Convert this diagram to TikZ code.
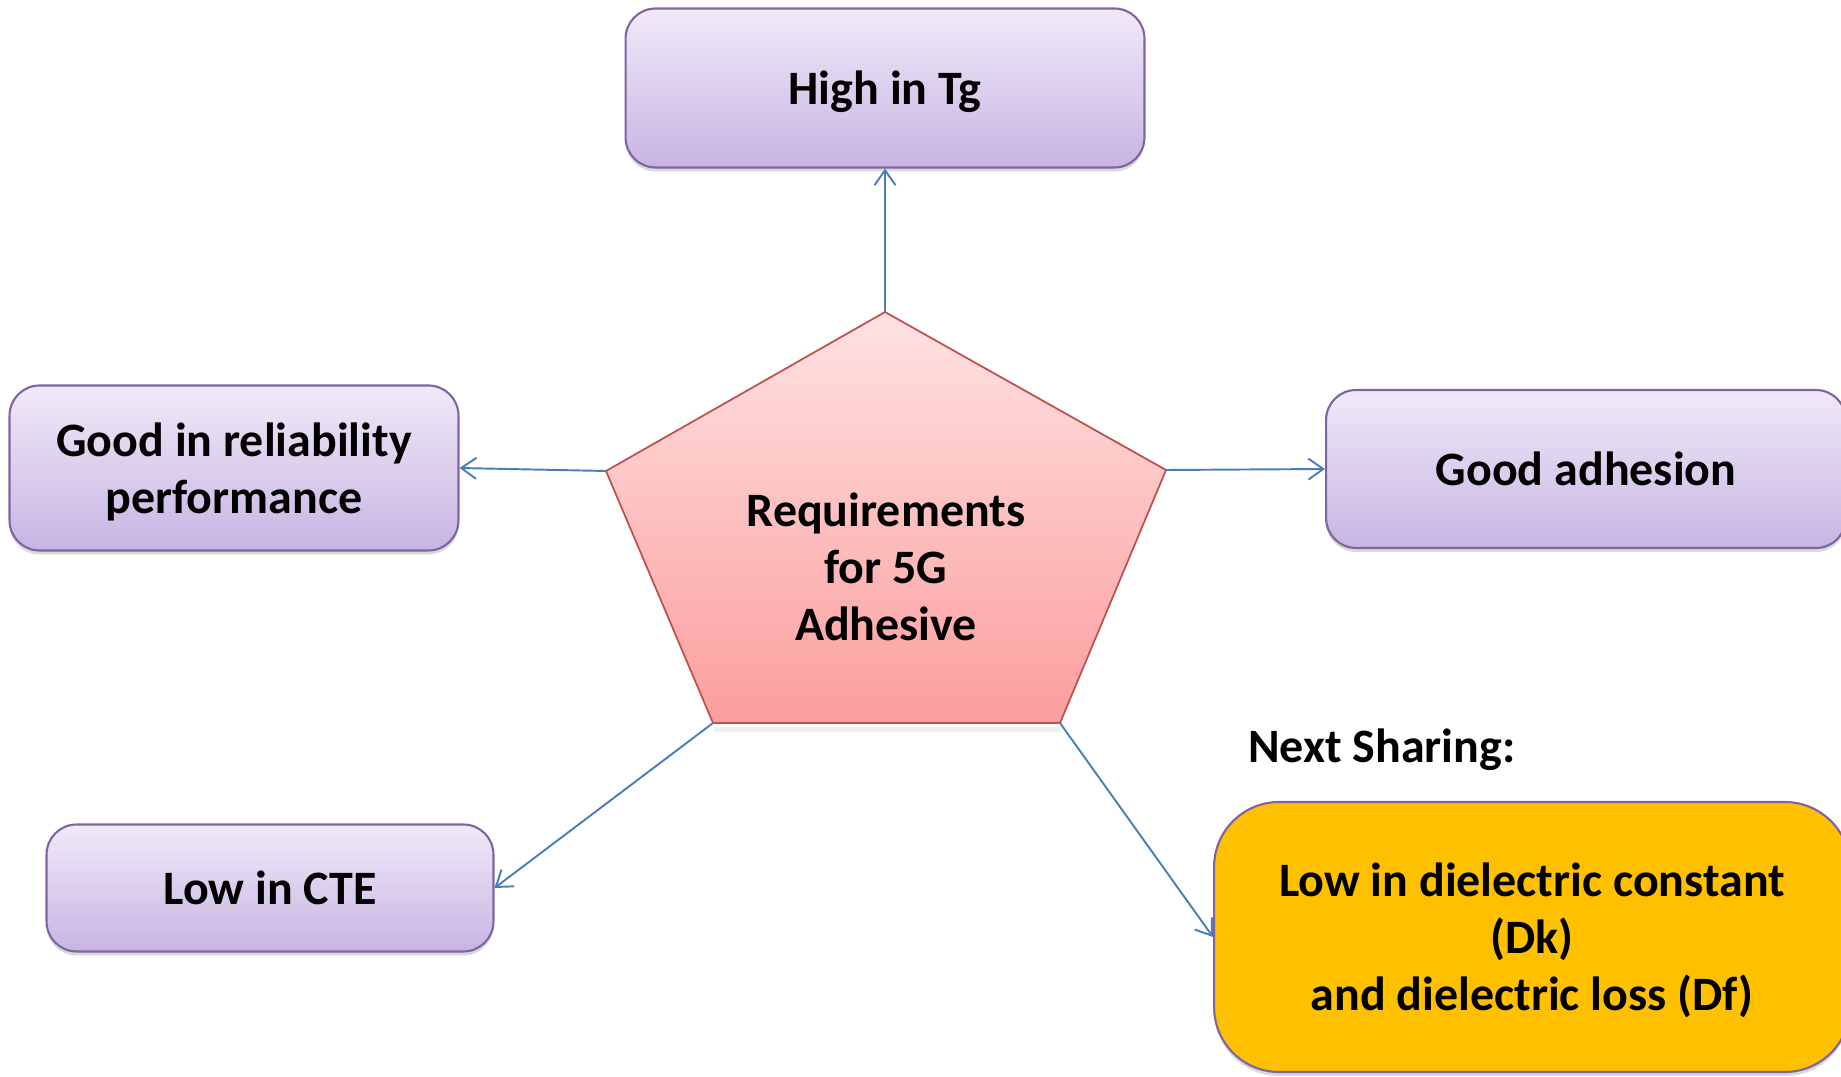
\documentclass[tikz,border=0pt]{standalone}
\usepackage{fontspec}
\setmainfont{Carlito}
\usetikzlibrary{arrows.meta,shadows}
\definecolor{boxline}{HTML}{8064A2}
\definecolor{boxtop}{HTML}{EFEAF8}
\definecolor{boxbot}{HTML}{C8B4E3}
\definecolor{pentline}{HTML}{C0504D}
\definecolor{penttop}{HTML}{FFE2E2}
\definecolor{pentbot}{HTML}{FB9E9D}
\definecolor{linkblue}{HTML}{4A7EBB}
\definecolor{nextgold}{HTML}{FFC000}

\begin{document}
\begin{tikzpicture}[x=0.02cm,y=-0.02cm,
  req/.style={draw=boxline, line width=1.2pt, rounded corners=0.6cm,
    top color=boxtop, bottom color=boxbot,
    drop shadow={opacity=.3, shadow xshift=0cm, shadow yshift=-.08cm},
    align=center, text depth=0pt, font=\fontsize{27.3}{32.5}\selectfont\bfseries},
  link/.style={-{Straight Barb[length=.3cm,width=.42cm]}, line width=1.1pt, draw=linkblue}]
\useasboundingbox (0,0) rectangle (1841,1077);

% pentagon in the middle
\coordinate (ptop) at (885,312);
\coordinate (pr) at (1166,470);
\coordinate (pbr) at (1060,723);
\coordinate (pbl) at (713,723);
\coordinate (pl) at (606,471);
\fill[black, opacity=.06] ([yshift=-2]pbl) -- ([yshift=-2]pbr) -- ([yshift=-5]pbr) -- ([yshift=-5]pbl) -- cycle;
\draw[draw=pentline, line width=1pt, top color=penttop, bottom color=pentbot]
  (ptop) -- (pr) -- (pbr) -- (pbl) -- (pl) -- cycle;
\node[align=center, font=\fontsize{27.3}{32.5}\selectfont\bfseries] (core) at (886,567)
  {Requirements\\for 5G\\Adhesive};

\node[req, minimum width=10.38cm, minimum height=3.18cm] (tg) at (885,88) {High in Tg};
\node[req, minimum width=8.98cm, minimum height=3.3cm] (rel) at (234,468) {Good in reliability\\performance};
\node[req, minimum width=10.4cm, minimum height=3.16cm] (adh) at (1586,469) {Good adhesion};
\node[req, minimum width=8.94cm, minimum height=2.54cm] (cte) at (270,888) {Low in CTE};
\node[req, top color=nextgold, bottom color=nextgold,
  rounded corners=1.3cm, minimum width=12.72cm, minimum height=5.4cm] (diel) at (1532,937)
  {Low in dielectric constant\\(Dk)\\and dielectric loss (Df)};
\node[anchor=west, font=\fontsize{27.3}{32.5}\selectfont\bfseries] (next) at (1242,750) {Next Sharing:};

\draw[link] (ptop) -- (tg.south);
\draw[link] (pl) -- (rel.east);
\draw[link] (pr) -- (adh.west);
\draw[link] (pbl) -- (cte.east);
\draw[link] (pbr) -- (diel.west);
\end{tikzpicture}
\end{document}
